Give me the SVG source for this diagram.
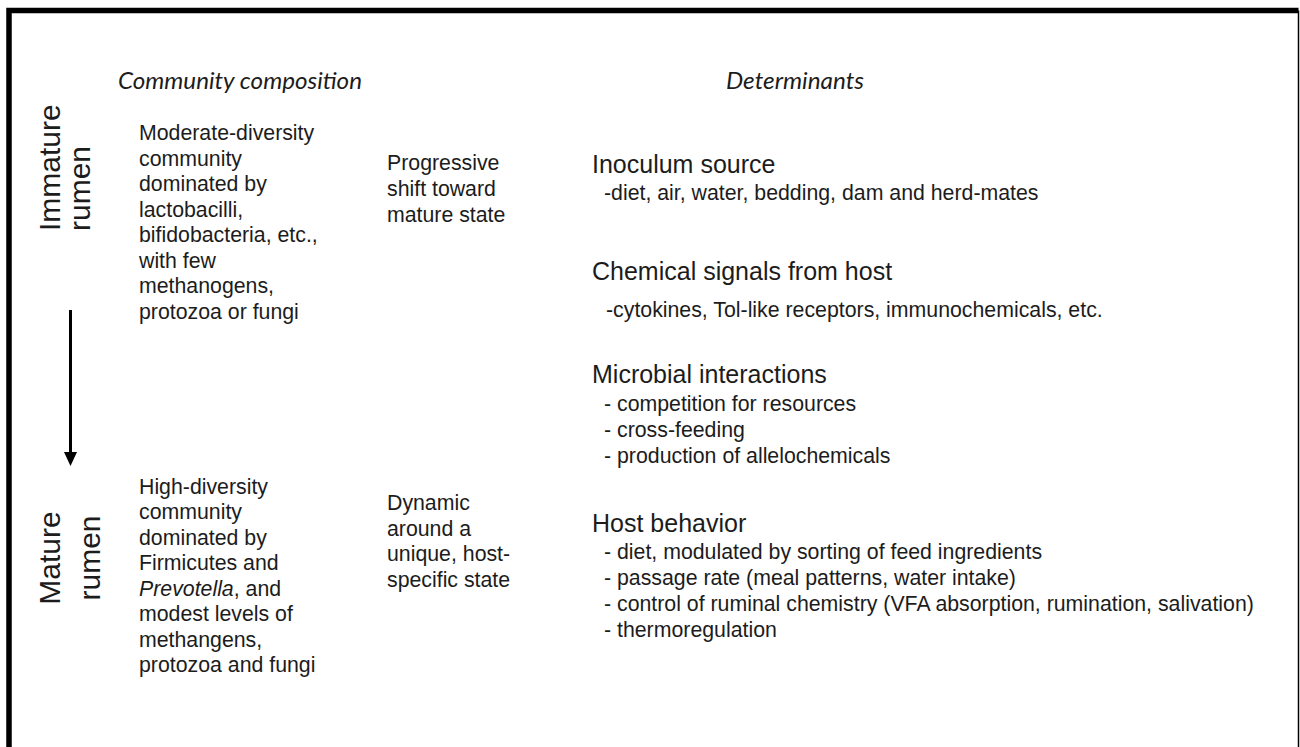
<svg xmlns="http://www.w3.org/2000/svg" width="1300" height="747" viewBox="0 0 1300 747">
<style>
.t{font-family:"Liberation Sans",Arial,sans-serif;font-size:21.3px;fill:#1c1c1c}
.h{font-family:"Liberation Sans",Arial,sans-serif;font-size:25px;fill:#1c1c1c}
.c{font-family:Lato,"Open Sans",sans-serif;font-style:italic;font-size:23px;fill:#1c1c1c}
.r{font-family:"Liberation Sans",Arial,sans-serif;font-size:30px;fill:#1c1c1c}
.i{font-style:italic}
</style>
<rect x="0" y="0" width="1300" height="747" fill="#fff"/>
<g id="frame" fill="none" stroke="#000">
<path d="M9 747 V10.5 H1298.5" stroke-width="5.5"/>
<path d="M1298.5 10.5 V747" stroke-width="1.5"/>
</g>
<g id="col-headers">
<text class="c" x="118" y="89" textLength="244" lengthAdjust="spacingAndGlyphs">Community composition</text>
<text class="c" x="726" y="89" textLength="138" lengthAdjust="spacingAndGlyphs">Determinants</text>
</g>
<g id="immature-label">
<text class="r" transform="translate(60,231) rotate(-90)">Immature</text>
<text class="r" transform="translate(90,231) rotate(-90)">rumen</text>
</g>
<g id="mature-label">
<text class="r" transform="translate(60,558) rotate(-90)" text-anchor="middle">Mature</text>
<text class="r" transform="translate(100,558) rotate(-90)" text-anchor="middle">rumen</text>
</g>
<g id="immature-composition">
<text class="t" x="139" y="140">Moderate-diversity</text>
<text class="t" x="139" y="165.5">community</text>
<text class="t" x="139" y="191">dominated by</text>
<text class="t" x="139" y="216.5">lactobacilli,</text>
<text class="t" x="139" y="242">bifidobacteria, etc.,</text>
<text class="t" x="139" y="267.5">with few</text>
<text class="t" x="139" y="293">methanogens,</text>
<text class="t" x="139" y="318.5">protozoa or fungi</text>
</g>
<g id="mature-composition">
<text class="t" x="139" y="493.5">High-diversity</text>
<text class="t" x="139" y="519">community</text>
<text class="t" x="139" y="544.5">dominated by</text>
<text class="t" x="139" y="570">Firmicutes and</text>
<text class="t" x="139" y="595.5"><tspan class="i">Prevotella</tspan>, and</text>
<text class="t" x="139" y="621">modest levels of</text>
<text class="t" x="139" y="646.5">methangens,</text>
<text class="t" x="139" y="672">protozoa and fungi</text>
</g>
<g id="immature-dynamics">
<text class="t" x="387" y="170">Progressive</text>
<text class="t" x="387" y="196">shift toward</text>
<text class="t" x="387" y="221.5">mature state</text>
</g>
<g id="mature-dynamics">
<text class="t" x="387" y="510">Dynamic</text>
<text class="t" x="387" y="535.5">around a</text>
<text class="t" x="387" y="561">unique, host-</text>
<text class="t" x="387" y="586.5">specific state</text>
</g>
<g id="inoculum-source">
<text class="h" x="592" y="172.7">Inoculum source</text>
<text class="t" x="604" y="200">-diet, air, water, bedding, dam and herd-mates</text>
</g>
<g id="chemical-signals">
<text class="h" x="592" y="280">Chemical signals from host</text>
<text class="t" x="606" y="316.7">-cytokines, Tol-like receptors, immunochemicals, etc.</text>
</g>
<g id="microbial-interactions">
<text class="h" x="592" y="383.3">Microbial interactions</text>
<text class="t" x="604" y="411">- competition for resources</text>
<text class="t" x="604" y="436.7">- cross-feeding</text>
<text class="t" x="604" y="462.7">- production of allelochemicals</text>
</g>
<g id="host-behavior">
<text class="h" x="592" y="531.7">Host behavior</text>
<text class="t" x="604" y="559.3">- diet, modulated by sorting of feed ingredients</text>
<text class="t" x="604" y="585">- passage rate (meal patterns, water intake)</text>
<text class="t" x="604" y="611">- control of ruminal chemistry (VFA absorption, rumination, salivation)</text>
<text class="t" x="604" y="636.7">- thermoregulation</text>
</g>
<g id="connectors">
<line x1="70.5" y1="310" x2="70.5" y2="453" stroke="#000" stroke-width="3"/>
<polygon points="64,452 77,452 70.5,466" fill="#000"/>
</g>
</svg>
